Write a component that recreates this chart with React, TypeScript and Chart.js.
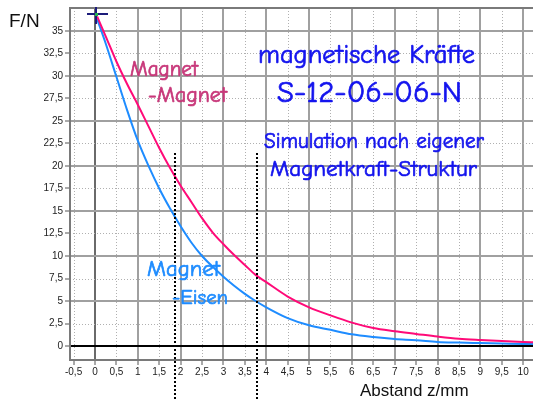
import React, { useEffect, useRef } from "react";
import { Chart, registerables } from "chart.js";

Chart.register(...registerables);

// ---- data ----
const distances = [0.05, 0.25, 0.5, 0.75, 1, 1.25, 1.5, 1.75, 2, 2.25, 2.5, 2.75, 3, 3.25, 3.5, 3.75, 4, 4.5, 5, 5.5, 6, 6.5, 7, 7.5, 8, 8.5, 9, 9.5, 10, 10.3];
const forceMagnetMagnet = [36.6, 34.4, 31.6, 29.1, 26.8, 24.4, 22.0, 19.8, 17.8, 16.0, 14.2, 12.6, 11.3, 10.1, 9.0, 7.9, 7.1, 5.5, 4.3, 3.4, 2.6, 2.0, 1.65, 1.35, 1.05, 0.8, 0.66, 0.55, 0.46, 0.42];
const forceMagnetEisen = [36.3, 33.6, 29.9, 26.2, 22.8, 20.0, 17.5, 15.3, 13.3, 11.5, 10.0, 8.8, 7.7, 6.7, 5.8, 5.0, 4.3, 3.1, 2.3, 1.8, 1.3, 1.0, 0.78, 0.65, 0.45, 0.38, 0.33, 0.28, 0.23, 0.22];
const xTicks = [-0.5, 0, 0.5, 1, 1.5, 2, 2.5, 3, 3.5, 4, 4.5, 5, 5.5, 6, 6.5, 7, 7.5, 8, 8.5, 9, 9.5, 10];
const yTicks = [0, 2.5, 5, 7.5, 10, 12.5, 15, 17.5, 20, 22.5, 25, 27.5, 30, 32.5, 35];
const markerDistances = [1.87, 3.78];
const markerTop = 21.4;
const startMarker = [0.02, 36.9];
const xRange = [-0.584, 10.23];
const yRange = [-1.55, 37.54];

const COMIC = "'Comic Sans MS', 'Comic Neue', 'DejaVu Sans', sans-serif";
const ARIAL = "'Liberation Sans', Arial, sans-serif";
const RED = "#ff0a78";
const BLUE = "#1e8cff";
const CLEAR = "rgba(0,0,0,0)";

const fmt = (v: number) => String(v).replace(".", ",");
const isWhole = (v: number) => Math.abs(v - Math.round(v)) < 1e-9;

function fitText(ctx: CanvasRenderingContext2D, text: string, left: number, baseline: number, width: number, color: string, family: string) {
  ctx.save();
  ctx.font = `20px ${family}`;
  const w = ctx.measureText(text).width;
  const size = (20 * width) / w;
  ctx.font = `${size.toFixed(2)}px ${family}`;
  ctx.fillStyle = color;
  ctx.strokeStyle = color;
  ctx.lineWidth = 0.7;
  ctx.lineJoin = "round";
  ctx.textAlign = "left";
  ctx.textBaseline = "alphabetic";
  ctx.fillText(text, left, baseline);
  ctx.strokeText(text, left, baseline);
  ctx.restore();
}

const decorPlugin = {
  id: "decor",
  beforeDatasetsDraw(chart: any) {
    const { ctx, chartArea: a, scales } = chart;
    const xs = scales.x, ys = scales.y;
    const L = Math.round(a.left), T = Math.round(a.top), R = Math.round(a.right), B = Math.round(a.bottom);
    ctx.save();
    // minor grid (dotted)
    ctx.fillStyle = "#b0b0b0";
    xTicks.filter((v) => !isWhole(v)).forEach((v) => {
      const p = Math.round(xs.getPixelForValue(v));
      for (let y = T; y < B; y += 3) ctx.fillRect(p, y, 1, 1);
    });
    yTicks.filter((v) => v % 5 !== 0).forEach((v) => {
      const p = Math.round(ys.getPixelForValue(v));
      for (let x = L; x < R; x += 3) ctx.fillRect(x, p, 1, 1);
    });
    // axis y = 0
    ctx.fillStyle = "#000";
    const y0 = Math.round(ys.getPixelForValue(0));
    ctx.fillRect(L, y0 - 1, R - L, 2);
    // frame
    ctx.fillStyle = "#7a7a7a";
    ctx.fillRect(L - 1, T - 1, R - L + 1, 2);
    ctx.fillRect(L - 1, B - 1, R - L + 1, 2);
    ctx.fillRect(L - 1, T - 1, 2, B - T + 2);
    ctx.restore();
  },
  afterDraw(chart: any) {
    const { ctx, scales } = chart;
    const xs = scales.x, ys = scales.y;
    ctx.save();
    // dotted marker lines
    ctx.fillStyle = "#000";
    markerDistances.forEach((v) => {
      const p = Math.round(xs.getPixelForValue(v));
      for (let y = Math.round(ys.getPixelForValue(markerTop)); y < chart.height; y += 4) ctx.fillRect(p - 1, y, 2, 2);
    });
    // start marker cross
    const cx = Math.round(xs.getPixelForValue(startMarker[0]));
    const cy = Math.round(ys.getPixelForValue(startMarker[1]));
    ctx.strokeStyle = "#1c1c7a";
    ctx.lineWidth = 2;
    ctx.beginPath();
    ctx.moveTo(cx - 9, cy); ctx.lineTo(cx + 12, cy);
    ctx.moveTo(cx, cy - 7); ctx.lineTo(cx, cy + 10);
    ctx.stroke();
    ctx.fillStyle = "#22b14c";
    ctx.fillRect(cx - 1, cy - 1, 3, 3);
    ctx.restore();

    // annotations
    fitText(ctx, "magnetische Kräfte", 258, 63, 217, "#1414ee", COMIC);
    fitText(ctx, "S-12-06-06-N", 277, 102, 185, "#1414ee", COMIC);
    fitText(ctx, "Simulation nach eigener", 264, 148, 220, "#1414ee", COMIC);
    fitText(ctx, "Magnetkraft-Struktur", 270, 176, 207, "#1414ee", COMIC);
    fitText(ctx, "Magnet", 130, 76, 68, "#c8387a", COMIC);
    fitText(ctx, "-Magnet", 148, 102, 79, "#c8387a", COMIC);
    fitText(ctx, "Magnet", 147, 276, 73, BLUE, COMIC);
    fitText(ctx, "-Eisen", 172, 304, 56, BLUE, COMIC);

    ctx.save();
    ctx.fillStyle = "#111";
    ctx.font = `19px ${ARIAL}`;
    ctx.textBaseline = "alphabetic";
    ctx.fillText("F/N", 9, 27);
    ctx.font = `17px ${ARIAL}`;
    ctx.fillText("Abstand z/mm", 360, 396);
    ctx.restore();
  },
};

export default function App() {
  const ref = useRef<HTMLCanvasElement | null>(null);
  useEffect(() => {
    if (!ref.current) return;
    const chart = new Chart(ref.current, {
      type: "line",
      data: {
        datasets: [
          {
            label: "Magnet-Magnet",
            data: distances.map((x, i) => ({ x, y: forceMagnetMagnet[i] })),
            borderColor: RED,
            borderWidth: 2,
            pointRadius: 0,
            cubicInterpolationMode: "monotone",
          },
          {
            label: "Magnet-Eisen",
            data: distances.map((x, i) => ({ x, y: forceMagnetEisen[i] })),
            borderColor: BLUE,
            borderWidth: 2,
            pointRadius: 0,
            cubicInterpolationMode: "monotone",
          },
        ],
      },
      options: {
        animation: false,
        responsive: false,
        maintainAspectRatio: false,
        devicePixelRatio: 1,
        layout: { padding: { top: 7, right: 0, left: 0, bottom: 0 } },
        plugins: { legend: { display: false }, tooltip: { enabled: false } },
        scales: {
          x: {
            type: "linear",
            min: xRange[0],
            max: xRange[1],
            afterBuildTicks: (s: any) => { s.ticks = xTicks.map((v) => ({ value: v })); },
            afterFit: (s: any) => { s.height = 40; },
            ticks: {
              autoSkip: false,
              maxRotation: 0,
              padding: 1,
              color: "#222",
              font: { family: ARIAL, size: 10 },
              callback: (v: any) => fmt(Number(v)),
            },
            grid: {
              drawOnChartArea: true,
              drawTicks: true,
              tickLength: 5,
              tickColor: "#555",
              tickWidth: 1,
              lineWidth: 2,
              color: (c: any) => {
                const v = c.tick ? c.tick.value : NaN;
                if (v === 0) return "#6a6a6a";
                return isWhole(v) ? "#a0a0a0" : CLEAR;
              },
            },
            border: { display: false },
          },
          y: {
            type: "linear",
            min: yRange[0],
            max: yRange[1],
            afterBuildTicks: (s: any) => { s.ticks = yTicks.map((v) => ({ value: v })); },
            afterFit: (s: any) => { s.width = 70; },
            ticks: {
              autoSkip: false,
              padding: 2,
              color: "#222",
              font: { family: ARIAL, size: 10 },
              callback: (v: any) => fmt(Number(v)),
            },
            grid: {
              drawOnChartArea: true,
              drawTicks: true,
              tickLength: 5,
              tickColor: "#555",
              tickWidth: 1,
              lineWidth: 2,
              color: (c: any) => {
                const v = c.tick ? c.tick.value : NaN;
                return v % 5 === 0 && v !== 0 ? "#a0a0a0" : CLEAR;
              },
            },
            border: { display: false },
          },
        },
      } as any,
      plugins: [decorPlugin],
    });
    return () => chart.destroy();
  }, []);
  return (
    <div style={{ position: "fixed", left: 0, top: 0, width: 533, height: 400, background: "#fff" }}>
      <canvas ref={ref} width={533} height={400} style={{ width: 533, height: 400, display: "block" }} />
    </div>
  );
}
